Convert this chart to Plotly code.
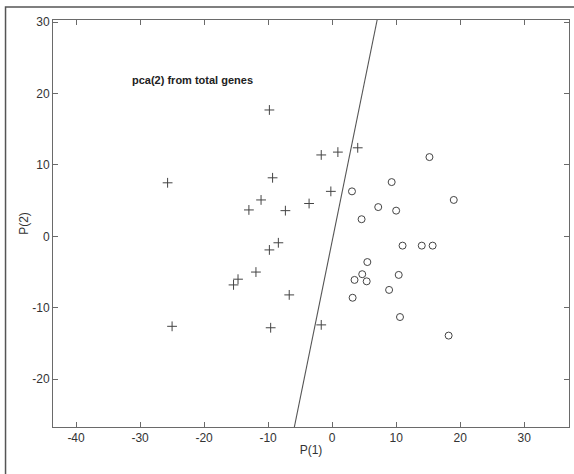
import plotly.graph_objects as go

# '+' group
plus_x = [-25.7, -9.8, -9.3, -11.1, -13.0, -7.3, -3.6, -1.7, 0.9, 4.0, -0.2,
          -8.4, -9.8, -11.9, -14.7, -15.4, -6.7, -25.0, -9.6, -1.7]
plus_y = [7.5, 17.7, 8.2, 5.1, 3.7, 3.6, 4.6, 11.4, 11.8, 12.4, 6.3,
          -0.9, -1.9, -5.0, -6.0, -6.8, -8.2, -12.6, -12.8, -12.4]

# 'o' group
circ_x = [15.2, 9.3, 3.1, 19.0, 7.2, 10.0, 4.6, 11.0, 14.0, 15.7,
          5.5, 4.7, 3.5, 5.4, 10.4, 8.9, 3.2, 10.6, 18.2]
circ_y = [11.1, 7.6, 6.3, 5.1, 4.1, 3.6, 2.4, -1.3, -1.3, -1.3,
          -3.6, -5.3, -6.1, -6.3, -5.4, -7.5, -8.6, -11.3, -13.9]

# separating line
line_x = [-5.9, 7.03]
line_y = [-26.7, 30.3]

x_ticks = [-40, -30, -20, -10, 0, 10, 20, 30]
x_labels = ["-40", "-30", "-20", "-10", "0", "10", "20", "30"]
y_ticks = [-20, -10, 0, 10, 20, 30]
y_labels = ["-20", "-10", "0", "10", "20", "30"]

title_text = "pca(2) from total genes"

FONT = "Liberation Sans, Arial, Helvetica, sans-serif"
AX = "#6a6a6a"

fig = go.Figure()
fig.add_trace(go.Scatter(x=line_x, y=line_y, mode="lines",
                         line=dict(color="#555555", width=1.1),
                         showlegend=False, hoverinfo="skip", cliponaxis=True))
fig.add_trace(go.Scatter(x=plus_x, y=plus_y, mode="markers",
                         marker=dict(symbol="cross-thin", size=7,
                                     line=dict(color="#444444", width=1)),
                         showlegend=False))
fig.add_trace(go.Scatter(x=circ_x, y=circ_y, mode="markers",
                         marker=dict(symbol="circle-open", size=7, color="#444444",
                                     line=dict(color="#444444", width=1)),
                         showlegend=False))

fig.add_annotation(x=-31.6, y=21.9, xref="x", yref="y", text="<b>" + title_text + "</b>",
                   showarrow=False, xanchor="left", yanchor="middle",
                   font=dict(family=FONT, size=11, color="#222222"))

fig.add_shape(type="rect", xref="paper", yref="paper",
              x0=-0.092, x1=1.3, y0=-0.3, y1=1.032,
              line=dict(color="#555555", width=1.5), layer="below")

axis_common = dict(showgrid=False, zeroline=False, showline=True, linecolor=AX,
                   linewidth=1, mirror="ticks", ticks="inside", ticklen=5,
                   tickcolor=AX, tickwidth=1, automargin=False,
                   tickfont=dict(family=FONT, size=12, color="#333333"))

fig.update_xaxes(range=[-43.6, 37.0], tickvals=x_ticks, ticktext=x_labels,
                 title=dict(text="P(1)", font=dict(family=FONT, size=12, color="#333333"),
                            standoff=1),
                 **axis_common)
fig.update_yaxes(range=[-26.7, 30.3], tickvals=y_ticks, ticktext=y_labels,
                 title=dict(text="P(2)", font=dict(family=FONT, size=12, color="#333333"),
                            standoff=1),
                 **axis_common)

fig.update_layout(width=574, height=474,
                  margin=dict(l=53, r=5, t=20, b=47, autoexpand=False),
                  paper_bgcolor="white", plot_bgcolor="white",
                  font=dict(family=FONT))

fig.write_html("out.html", config={"displayModeBar": False},
               post_script="document.body.style.margin='0px';document.body.style.overflow='hidden';")
